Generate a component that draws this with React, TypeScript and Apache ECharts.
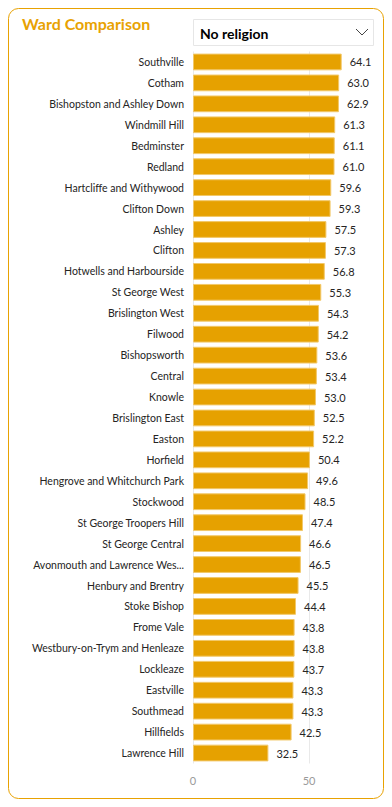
import React, { useEffect, useRef } from "react";
import * as echarts from "echarts";

const wards: string[] = [
  "Southville", "Cotham", "Bishopston and Ashley Down", "Windmill Hill", "Bedminster",
  "Redland", "Hartcliffe and Withywood", "Clifton Down", "Ashley", "Clifton",
  "Hotwells and Harbourside", "St George West", "Brislington West", "Filwood", "Bishopsworth",
  "Central", "Knowle", "Brislington East", "Easton", "Horfield",
  "Hengrove and Whitchurch Park", "Stockwood", "St George Troopers Hill", "St George Central",
  "Avonmouth and Lawrence Weston", "Henbury and Brentry", "Stoke Bishop", "Frome Vale",
  "Westbury-on-Trym and Henleaze", "Lockleaze", "Eastville", "Southmead", "Hillfields", "Lawrence Hill",
];
const noReligionPct: number[] = [
  64.1, 63.0, 62.9, 61.3, 61.1,
  61.0, 59.6, 59.3, 57.5, 57.3,
  56.8, 55.3, 54.3, 54.2, 53.6,
  53.4, 53.0, 52.5, 52.2, 50.4,
  49.6, 48.5, 47.4, 46.6,
  46.5, 45.5, 44.4, 43.8,
  43.8, 43.7, 43.3, 43.3, 42.5, 32.5,
];
const titleText = "Ward Comparison";
const selectedReligion = "No religion";

const ORANGE = "#E8A202";
const FONT = "'Segoe UI', Lato, 'Open Sans', sans-serif";

export default function App() {
  const ref = useRef<HTMLDivElement>(null);
  useEffect(() => {
    if (!ref.current) return;
    const chart = echarts.init(ref.current, undefined, { renderer: "svg" });
    chart.setOption({
      animation: false,
      title: {
        text: titleText,
        left: 17,
        top: 10,
        textStyle: { color: ORANGE, fontSize: 16, fontWeight: "bold", fontFamily: FONT },
      },
      graphic: [
        {
          type: "rect",
          shape: { x: 8.5, y: 8.5, width: 375, height: 790, r: 10 },
          style: { fill: "none", stroke: ORANGE, lineWidth: 1 },
          z: 0,
        },
        {
          type: "rect",
          shape: { x: 193.5, y: 19.5, width: 180, height: 26 },
          style: { fill: "#fff", stroke: "#E6E6E6", lineWidth: 1 },
          z: 10,
        },
        {
          type: "text",
          x: 200,
          y: 33,
          style: {
            text: selectedReligion,
            fill: "#000",
            font: `bold 14px ${FONT}`,
            textVerticalAlign: "middle",
          },
          z: 11,
        },
        {
          type: "polyline",
          shape: { points: [[356, 29], [362, 35], [368, 29]] },
          style: { stroke: "#444", lineWidth: 1, fill: "none" },
          z: 11,
        },
      ],
      grid: {
        left: 193,
        top: 51.5,
        width: 232,
        height: 712,
        containLabel: false,
        outerBoundsMode: "none",
      },
      xAxis: {
        type: "value",
        min: 0,
        max: 100,
        interval: 50,
        axisLine: { show: false },
        axisTick: { show: false },
        axisLabel: {
          color: "#9A9A9A",
          fontSize: 11,
          fontFamily: FONT,
          margin: 11,
          showMaxLabel: false,
        },
        splitLine: { show: true, lineStyle: { color: "#E9E9E9", width: 1 } },
      },
      yAxis: {
        type: "category",
        data: wards,
        inverse: true,
        axisLine: { show: false },
        axisTick: { show: false },
        axisLabel: {
          color: "#252423",
          fontSize: 10.5,
          fontFamily: FONT,
          margin: 9,
          width: 154,
          overflow: "truncate",
          ellipsis: "...",
        },
      },
      series: [
        {
          type: "bar",
          data: noReligionPct,
          barCategoryGap: "20%",
          itemStyle: { color: "#E6A100", borderColor: "#F2C869", borderWidth: 1 },
          label: {
            show: true,
            position: "right",
            distance: 8,
            color: "#252423",
            fontSize: 11,
            fontFamily: FONT,
            formatter: (p: any) => Number(p.value).toFixed(1),
          },
        },
      ],
    });
    return () => chart.dispose();
  }, []);
  return (
    <div
      ref={ref}
      style={{ position: "absolute", left: 0, top: 0, width: 392, height: 807 }}
    />
  );
}
